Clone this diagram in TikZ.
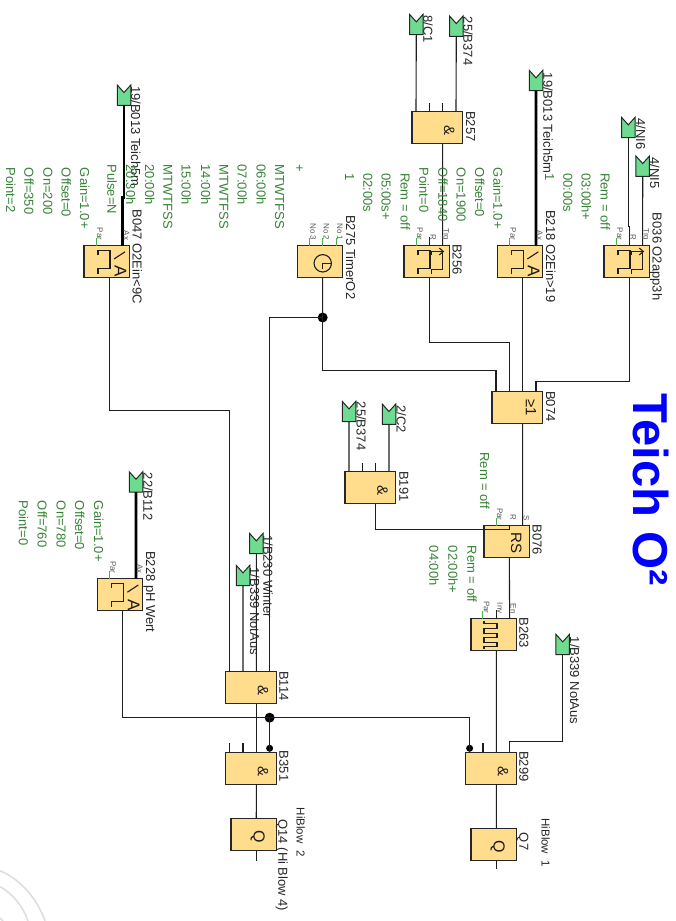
\documentclass[tikz,border=0pt]{standalone}
\usepackage{fontspec}
\setmainfont{Liberation Sans}
\definecolor{blockfill}{HTML}{FFDD8C}
\definecolor{flagfill}{HTML}{6EDC90}
\definecolor{paramgreen}{HTML}{358235}
\definecolor{pingreen}{HTML}{4CAF50}
\definecolor{wirecol}{HTML}{1E1E1E}
\newcommand{\threepins}[1]{%
  \coordinate (#1-1) at ([xshift=12pt]#1.north west);
  \coordinate (#1-2) at ([xshift=25.33pt]#1.north west);
  \coordinate (#1-3) at ([xshift=38.67pt]#1.north west);
  \coordinate (#1-o) at ([xshift=25.33pt]#1.south west);}
\newcommand{\fourpins}[1]{%
  \coordinate (#1-1) at ([xshift=4pt]#1.north west);
  \coordinate (#1-2) at ([xshift=17.33pt]#1.north west);
  \coordinate (#1-3) at ([xshift=30.67pt]#1.north west);
  \coordinate (#1-4) at ([xshift=44pt]#1.north west);
  \coordinate (#1-o) at ([xshift=30.67pt]#1.south west);}
\newcommand{\inflag}[3]{%
  \node[flagbox] (#1) at (#2,#3+10.2) {};
  \draw[flagline] (#1.north west) -- ++(6.75,7.5) -- (#1.north east)
    -- (#1.south east) -- (#1.south west) -- cycle;}
\tikzset{
  threshsym/.pic={
    \draw[symline] (14,9.6) -- (14,5) -- (26,5) -- (26,23) -- (14,23) -- (14,28.6);
    \draw[symline] (30,13.5) -- (41,6.3);
    \node[sym, font=\fontsize{17}{19}\selectfont] (-a) at (36.4,26) {A};},
  delaysym/.pic={
    \draw[symline] (14,9.6) -- (14,5) -- (26,5) -- (26,23) -- (14,23) -- (14,28.6);
    \draw[symline] (27.7,9.6) -- (27.7,6) -- (38.7,6) -- (38.7,24) -- (27.7,24) -- (27.7,28.6);
    \draw[symline] (35.3,2.6) -- (39.3,6) -- (35.3,9.4);},
  trainsym/.pic={
    \draw[symline] (13,2.5) -- (13,5) -- (26,5) -- (26,10) -- (13,10) -- (13,14.5) -- (26,14.5)
      -- (26,19) -- (13,19) -- (13,23.5) -- (26,23.5) -- (26,28) -- (13,28) -- (13,30);},
  clocksym/.pic={
    \draw[symline] (25.4,17.8) circle (8.7);
    \draw[symline] (33.4,17.8) -- (25.4,17.8) -- (25.4,23.5);}
}
\begin{document}
\begin{tikzpicture}[x=1pt, y=-1pt,
  block/.style={draw=black!85, fill=blockfill, line width=1.1pt, inner sep=0pt, outer sep=0pt,
                minimum width=45.33pt, minimum height=32pt},
  wideblock/.style={block, minimum width=50.67pt},
  flagbox/.style={inner sep=0pt, outer sep=0pt, minimum width=13.5pt, minimum height=20.3pt},
  flagline/.style={draw=black!85, fill=flagfill, line width=1pt},
  wire/.style={draw=wirecol, line width=1.1pt},
  busw/.style={draw=black, line width=2.6pt},
  parpin/.style={draw=pingreen, line width=1pt},
  symline/.style={draw=wirecol, line width=1.1pt},
  lbl/.style={rotate=-90, anchor=base west, inner sep=0pt, font=\fontsize{13}{15}\selectfont, text=black!85},
  par/.style={lbl, text=paramgreen},
  pl/.style={rotate=-90, anchor=base east, inner sep=0pt, font=\fontsize{8}{9}\selectfont, text=black!65},
  sym/.style={rotate=-90, inner sep=0pt, text=black!90},
  ampsym/.style={sym, font=\fontsize{15}{17}\selectfont},
  jdot/.style={circle, fill=black, inner sep=0pt, minimum size=10pt},
  invdot/.style={circle, fill=black, inner sep=0pt, minimum size=7pt}]
\useasboundingbox (0,0) rectangle (675,921);
% watermark arcs in the corner
\draw[black!13, line width=1.6pt] (0,870.7) .. controls (20,879) and (37,898) .. (45,921);
\draw[black!13, line width=1.6pt] (0,886.7) .. controls (12,893) and (23,906) .. (28,921);
\draw[black!13, line width=1.6pt] (0,918) -- (3,921);
% title
\node[rotate=-90, anchor=base west, inner sep=0pt, text=blue, font=\fontsize{49}{52}\selectfont\bfseries] (title) at (633,393) {Teich O²};
% top row of blocks
\node[block] (b047) at (106.67,261.5) {}; \threepins{b047}
\node[block] (b275) at (320,261.5) {}; \threepins{b275}
\node[block] (b256) at (426.67,261.5) {}; \threepins{b256}
\node[block] (b218) at (520,261.5) {}; \threepins{b218}
\node[block] (b036) at (626.67,261.5) {}; \threepins{b036}
\node[wideblock] (b257) at (437.33,127.6) {}; \fourpins{b257}
\pic at (b047.north west) {threshsym};
\pic at (b218.north west) {threshsym};
\pic at (b256.north west) {delaysym};
\pic at (b036.north west) {delaysym};
\pic at (b275.north west) {clocksym};
\node[ampsym] (b257s) at ([xshift=12pt,yshift=-3pt]b257.center) {\&};
% middle blocks
\node[wideblock] (b074) at (517.33,407.6) {}; \fourpins{b074}
\node[wideblock] (b191) at (370.37,487.6) {}; \fourpins{b191}
\node[block] (b076) at (506.67,541.7) {}; \threepins{b076}
\node[block] (b263) at (493.63,634.7) {}; \threepins{b263}
\node[block] (b228) at (120,594.7) {}; \threepins{b228}
\node[wideblock] (b114) at (250.97,687.6) {}; \fourpins{b114}
\pic at (b228.north west) {threshsym};
\pic at (b263.north west) {trainsym};
\node[sym, font=\fontsize{15}{17}\selectfont] (b074s) at ([xshift=13.7pt,yshift=0pt]b074.center) {≥1};
\node[ampsym] (b191s) at ([xshift=12pt,yshift=-3pt]b191.center) {\&};
\node[sym, font=\fontsize{15}{17}\selectfont] (b076s) at ([xshift=9.7pt,yshift=-1pt]b076.center) {RS};
\node[ampsym] (b114s) at ([xshift=12pt,yshift=-3pt]b114.center) {\&};
% output row
\node[wideblock] (b299) at (490.97,768.3) {}; \fourpins{b299}
\node[wideblock] (b351) at (250.97,768.3) {}; \fourpins{b351}
\node[block] (q7) at (493.63,844.3) {}; \threepins{q7}
\node[block] (q14) at (253.63,834.7) {}; \threepins{q14}
\node[ampsym] (b299s) at ([xshift=12pt,yshift=-3pt]b299.center) {\&};
\node[ampsym] (b351s) at ([xshift=12pt,yshift=-3pt]b351.center) {\&};
\node[sym, font=\fontsize{16}{18}\selectfont] (q7s) at ([xshift=4pt,yshift=-2pt]q7.center) {Q};
\node[sym, font=\fontsize{16}{18}\selectfont] (q14s) at ([xshift=4pt,yshift=-2pt]q14.center) {Q};
% input flags
\inflag{fb013a}{124}{85}
\inflag{fc1}{416.3}{14.3}
\inflag{fb374a}{456.3}{16}
\inflag{fb013b}{536}{70.3}
\inflag{fni6}{628.3}{117.3}
\inflag{fni5}{642.7}{156}
\inflag{fb374b}{349}{401.3}
\inflag{fc2}{389}{404}
\inflag{fb339r}{562.7}{634.3}
\inflag{fb112}{136}{471.7}
\inflag{fb230}{256.3}{533.3}
\inflag{fb339l}{243}{565.3}
% junctions
\node[jdot] (jt) at (322.67,317.5) {};
\node[jdot] (jb) at (269.63,717.7) {};
\node[invdot] (inv351) at (269.63,748.3) {};
\node[invdot] (inv299) at (469.63,748.3) {};
% wires
\draw[busw] (fb013a.south) -- ++(0,92) -| (b047-3);
\draw[busw] (fb013b.south) -- (b218-3);
\draw[busw] (fb112.south) -- (b228-3);
\draw[wire] (fc1.south) -- (b257-1); \draw[wire] (fb374a.south) -- (b257-4);
\draw[wire] (b257-o) -- (b256-3);
\draw[wire] (fni6.south) -- ++(0,88.5) -| (b036-2); \draw[wire] (fni5.south) -- (b036-3);
\draw[wire] (b275-o) -- (jt.center);
\draw[wire] (jt.center) -| (b114-4);
\draw[wire] (jt.center) -- ++(0,53.2) -| (b074-1);
\draw[wire] (b256-o) -- ++(0,65.2) -| (b074-2);
\draw[wire] (b218-o) -- (b074-3);
\draw[wire] (b036-o) -- ++(0,104.2) -| (b074-4);
\draw[wire] (b047-o) -- ++(0,133.2) -| (b114-1);
\draw[wire] (fb374b.south) -- (b191-1); \draw[wire] (fc2.south) -- (b191-4);
\draw[wire] (b074-o) -- (b076-3);
\draw[wire] (b191-o) -- ++(0,26.3) -| (b076-2);
\draw[wire] (b076-o) -- (b263-3);
\draw[wire] (b263-o) -- (b299-3);
\draw[wire] (fb339r.south) -- ++(0,87) -| (b299-4);
\draw[wire] (fb339l.south) -- (b114-2); \draw[wire] (fb230.south) -- (b114-3);
\draw[wire] (b228-o) |- (jb.center);
\draw[wire] (jb.center) -| (inv299.center);
\draw[wire] (jb.center) -- (inv351.center);
\draw[wire] (inv299.center) -- (b299-1); \draw[wire] (inv351.center) -- (b351-4);
\draw[wire] (b114-o) -- (b351-3);
\draw[wire] (b299-o) -- (q7-2); \draw[wire] (b351-o) -- (q14-2);
\draw[wire] (q7-o) -- ++(0,8.4); \draw[wire] (q14-o) -- ++(0,10);
% open pins
\draw[wire] (b257-2) -- ++(0,-8.4); \draw[wire] (b257-3) -- ++(0,-8.4);
\draw[wire] (b191-2) -- ++(0,-8.7); \draw[wire] (b191-3) -- ++(0,-8.7);
\draw[wire] (b256-2) -- ++(0,-8.4); \draw[wire] (b263-2) -- ++(0,-8.4);
\draw[wire] (b351-1) -- ++(0,-9); \draw[wire] (b351-2) -- ++(0,-9);
\draw[wire] (b299-2) -- ++(0,-9);
\draw[parpin] (b047-1) -- ++(0,-8); \draw[parpin] (b256-1) -- ++(0,-8);
\draw[parpin] (b218-1) -- ++(0,-8); \draw[parpin] (b036-1) -- ++(0,-8);
\draw[parpin] (b076-1) -- ++(0,-8); \draw[parpin] (b263-1) -- ++(0,-8);
\draw[parpin] (b228-1) -- ++(0,-8);
\draw[parpin] (b275-1) -- ++(0,-8); \draw[parpin] (b275-2) -- ++(0,-8); \draw[parpin] (b275-3) -- ++(0,-8);
% pin labels
\node[pl] (pb047a) at ([xshift=1pt,yshift=5pt]b047-1) {Par}; \node[pl] (pb047b) at ([xshift=1.2pt,yshift=5pt]b047-3) {Ax};
\node[pl] (pb275a) at ([xshift=1pt,yshift=5pt]b275-1) {No 3}; \node[pl] (pb275b) at ([xshift=1pt,yshift=5pt]b275-2) {No 2};
\node[pl] (pb275c) at ([xshift=1pt,yshift=5pt]b275-3) {No 1};
\node[pl] (pb256a) at ([xshift=1pt,yshift=5pt]b256-1) {Par}; \node[pl] (pb256b) at ([xshift=1pt,yshift=5pt]b256-2) {R};
\node[pl] (pb256c) at ([xshift=1pt,yshift=5pt]b256-3) {Trg};
\node[pl] (pb218a) at ([xshift=1pt,yshift=5pt]b218-1) {Par}; \node[pl] (pb218b) at ([xshift=1.2pt,yshift=5pt]b218-3) {Ax};
\node[pl] (pb036a) at ([xshift=1pt,yshift=5pt]b036-1) {Par}; \node[pl] (pb036b) at ([xshift=1pt,yshift=5pt]b036-2) {R};
\node[pl] (pb036c) at ([xshift=1pt,yshift=5pt]b036-3) {Trg};
\node[pl] (pb076a) at ([xshift=1pt,yshift=5pt]b076-1) {Par}; \node[pl] (pb076b) at ([xshift=1pt,yshift=5pt]b076-2) {R};
\node[pl] (pb076c) at ([xshift=1pt,yshift=5pt]b076-3) {S};
\node[pl] (pb263a) at ([xshift=1pt,yshift=5pt]b263-1) {Par}; \node[pl] (pb263b) at ([xshift=1pt,yshift=5pt]b263-2) {Inv};
\node[pl] (pb263c) at ([xshift=1pt,yshift=5pt]b263-3) {En};
\node[pl] (pb228a) at ([xshift=1pt,yshift=5pt]b228-1) {Par}; \node[pl] (pb228b) at ([xshift=1.2pt,yshift=5pt]b228-3) {Ax};
% black labels
\node[lbl] (lf1) at (131,86) {19/B013 Teich5m};
\node[lbl] (lb047) at (132.7,209.3) {B047 O2Ein<9C};
\node[lbl] (lb275) at (346,215) {B275 TimerO2};
\node[lbl] (lb256) at (452.7,244) {B256};
\node[lbl] (lb218) at (546,210) {B218 O2Ein>19};
\node[lbl] (lb036) at (652.7,212.7) {B036 O2app3h};
\node[lbl] (lb257) at (466,111) {B257};
\node[lbl] (lf2) at (423.3,15) {8/C1};
\node[lbl] (lf3) at (463.3,16.7) {25/B374};
\node[lbl] (lf4) at (543.3,72.7) {19/B013 Teich5m};
\node[lbl] (lf5) at (636,118) {4/NI6};
\node[lbl] (lf6) at (650,157) {4/NI5};
\node[lbl] (lb074) at (546,391) {B074};
\node[lbl] (lf7) at (356.7,401.7) {25/B374};
\node[lbl] (lf8) at (396.7,405) {2/C2};
\node[lbl] (lb191) at (399.3,471) {B191};
\node[lbl] (lb076) at (532.7,524.3) {B076};
\node[lbl] (lb263) at (519.3,617.3) {B263};
\node[lbl] (lf9) at (570,636.7) {1/B339 NotAus};
\node[lbl] (lb299) at (519.3,751) {B299};
\node[lbl] (lq7) at (519.3,832.7) {Q7};
\node[lbl] (lf10) at (143.3,472.7) {22/B112};
\node[lbl] (lb228) at (146,551) {B228 pH Wert};
\node[lbl] (lf11) at (263.3,535) {1/B230 Winter};
\node[lbl] (lf12) at (250,567.3) {1/B339 NotAus};
\node[lbl] (lb114) at (279.3,671) {B114};
\node[lbl] (lb351) at (279.3,750.7) {B351};
\node[lbl] (lq14) at (278.3,819.3) {Q14 (Hi Blow 4)};
\node[lbl, font=\fontsize{11.5}{13}\selectfont] (hb1) at (541.7,818.3) {HiBlow\ \ 1};
\node[lbl, font=\fontsize{11.5}{13}\selectfont] (hb2) at (296.7,807.7) {HiBlow\ \ 2};
% parameters of B047
\node[par] (pa1) at (107.3,164.5) {Pulse=N};
\node[par] (pa2) at (80,167.7) {Gain=1.0+};
\node[par] (pa3) at (61.7,167.7) {Offset=0};
\node[par] (pa4) at (43.3,167.7) {On=200};
\node[par] (pa5) at (24.3,167.7) {Off=350};
\node[par] (pa6) at (6,167.7) {Point=2};
% parameters of B275
\node[par] (pb1) at (295,164.5) {+};
\node[par] (pb2) at (275,164.5) {MTWTFSS};
\node[par] (pb3) at (256.7,164.5) {06:00h};
\node[par] (pb4) at (237.7,164.5) {07:00h};
\node[par] (pb5) at (219.3,164.5) {MTWTFSS};
\node[par] (pb6) at (201,164.5) {14:00h};
\node[par] (pb7) at (181.7,164.5) {15:00h};
\node[par] (pb8) at (163.3,164.5) {MTWTFSS};
\node[par] (pb9) at (145,164.5) {20:00h};
\node[par] (pb10) at (126,164.5) {20:30h};
% parameters of B256
\node[par] (pc1) at (345,173) {1};
\node[par] (pc2) at (363.3,173) {02:00s};
\node[par] (pc3) at (381.7,173) {05:00s+};
\node[par] (pc4) at (400.7,173) {Rem = off};
\node[par] (pc5) at (419.3,167.7) {Point=0};
\node[par] (pc6) at (438.3,167.7) {Off=1840};
\node[par] (pc7) at (456.7,167.7) {On=1900};
\node[par] (pc8) at (475,167.7) {Offset=0};
\node[par] (pc9) at (493.3,167.7) {Gain=1.0+};
% parameters of B036
\node[par] (pd1) at (545,173) {1};
\node[par] (pd2) at (563.3,173) {00:00s};
\node[par] (pd3) at (581.7,173) {03:00h+};
\node[par] (pd4) at (600.7,173) {Rem = off};
% parameters of B076, B263, B228
\node[par] (pe1) at (480,452.3) {Rem = off};
\node[par] (pf1) at (467.3,545.7) {Rem = off};
\node[par] (pf2) at (448.3,545.7) {02:00h+};
\node[par] (pf3) at (429.3,545.7) {04:00h};
\node[par] (pg1) at (94,500.7) {Gain=1.0+};
\node[par] (pg2) at (75,500.7) {Offset=0};
\node[par] (pg3) at (56.7,500.7) {On=780};
\node[par] (pg4) at (37.7,500.7) {Off=760};
\node[par] (pg5) at (19,500.7) {Point=0};
\end{tikzpicture}
\end{document}
